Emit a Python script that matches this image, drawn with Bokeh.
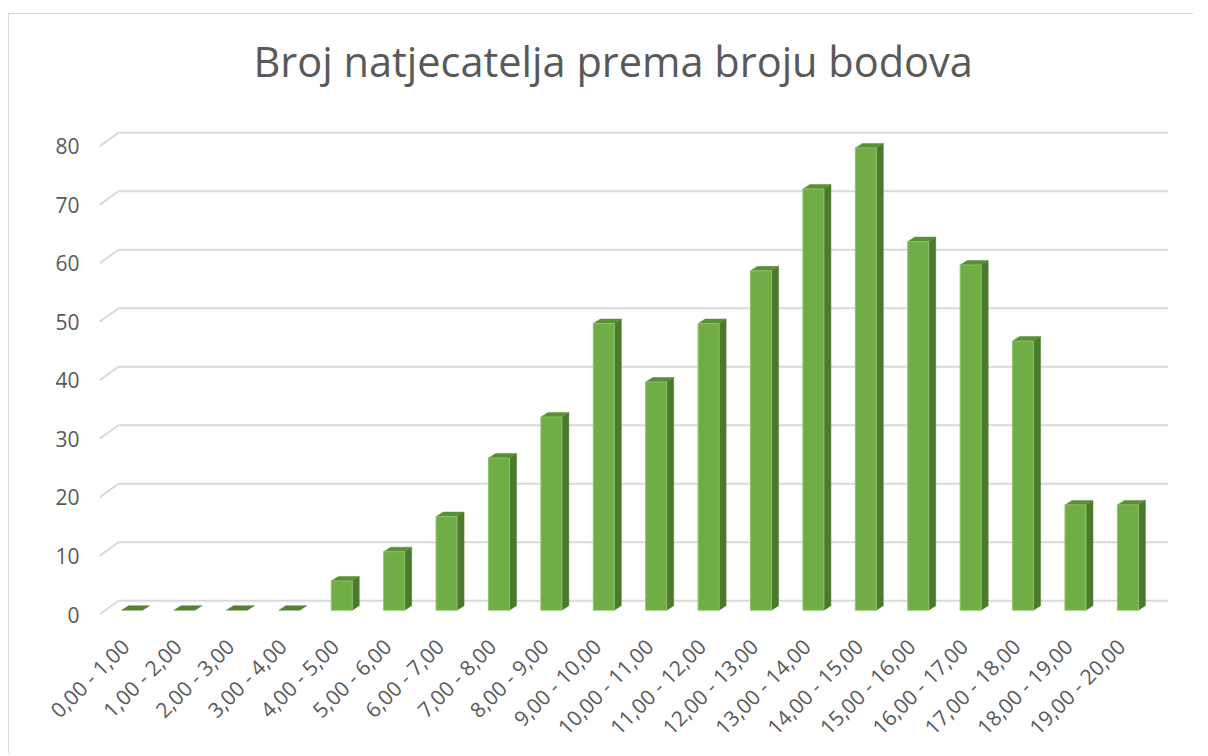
import math
from bokeh.plotting import figure
from bokeh.models import Range1d, FixedTicker, Title
from bokeh.embed import file_html
from bokeh.resources import INLINE

# ---- data ----
categories = ["0,00 - 1,00", "1,00 - 2,00", "2,00 - 3,00", "3,00 - 4,00", "4,00 - 5,00",
              "5,00 - 6,00", "6,00 - 7,00", "7,00 - 8,00", "8,00 - 9,00", "9,00 - 10,00",
              "10,00 - 11,00", "11,00 - 12,00", "12,00 - 13,00", "13,00 - 14,00", "14,00 - 15,00",
              "15,00 - 16,00", "16,00 - 17,00", "17,00 - 18,00", "18,00 - 19,00", "19,00 - 20,00"]
counts = [0, 0, 0, 0, 5, 10, 16, 26, 33, 49, 39, 49, 58, 72, 79, 63, 59, 46, 18, 18]
y_ticks = [0, 10, 20, 30, 40, 50, 60, 70, 80]
title_text = "Broj natjecatelja prema broju bodova"

# ---- styling / geometry (pseudo-3D column look) ----
FONT = "Open Sans"
TXT = "#595959"
FRONT = "#70AD47"
FRONT_EDGE = "#8DC26A"
SIDE = "#4A7A2C"
TOP = "#5A8F36"
FLAT = "#548235"
GRID = "#D9D9D9"

SHIFT = 0.13          # bars sit slightly right of the label anchors
X0, X1 = -0.622 + SHIFT, 19.775 + SHIFT
Y0, Y1 = -1.025, 87.85
half_w = 0.2          # half width of bar front face (category units)
base = 0.735          # bar base lift (bars sit mid-depth)
ddx, ddy = 0.134, 0.77  # bar depth offset
gdx_start = -0.26 + SHIFT  # back wall start (x)
gdy = 2.35            # back wall lift of gridlines

p = figure(width=1185, height=740, output_backend="svg", toolbar_location=None,
           x_range=Range1d(X0, X1), y_range=Range1d(Y0, Y1),
           min_border_left=90, min_border_right=26, min_border_top=86,
           min_border_bottom=134)
p.styles = {"margin-left": "8px", "margin-top": "13px",
            "border-left": "1px solid #D9D9D9", "border-top": "1px solid #D9D9D9"}
p.outline_line_color = None
p.background_fill_color = "white"
p.border_fill_color = "white"
p.xgrid.visible = False
p.ygrid.visible = False

# gridlines on back wall, with floor-to-wall diagonals
gx0, gy0, gx1, gy1 = [], [], [], []
for t in y_ticks:
    gx0 += [X0, gdx_start]
    gy0 += [t, t + gdy]
    gx1 += [gdx_start, X1]
    gy1 += [t + gdy, t + gdy]
p.segment(x0=gx0, y0=gy0, x1=gx1, y1=gy1, line_color=GRID, line_width=2)

# bars
front_l, front_r, front_b, front_t = [], [], [], []
side_xs, side_ys, top_xs, top_ys, flat_xs, flat_ys = [], [], [], [], [], []
for i, v in enumerate(counts):
    xc = i + SHIFT
    l, r = xc - half_w, xc + half_w
    b, t = base, base + v
    top = ([l, l + ddx, r + ddx, r], [t, t + ddy, t + ddy, t])
    if v > 0:
        front_l.append(l); front_r.append(r); front_b.append(b); front_t.append(t)
        side_xs.append([r, r + ddx, r + ddx, r])
        side_ys.append([b, b + ddy, t + ddy, t])
        top_xs.append(top[0]); top_ys.append(top[1])
    else:
        flat_xs.append(top[0]); flat_ys.append(top[1])

p.patches(xs=flat_xs, ys=flat_ys, fill_color=FLAT, line_color=FLAT, line_width=0.5)
p.patches(xs=side_xs, ys=side_ys, fill_color=SIDE, line_color=SIDE, line_width=0.5)
p.patches(xs=top_xs, ys=top_ys, fill_color=TOP, line_color=TOP, line_width=0.5)
p.quad(left=front_l, right=front_r, bottom=front_b, top=front_t,
       fill_color=FRONT, line_color=FRONT_EDGE, line_width=1)

# axes
p.yaxis.ticker = FixedTicker(ticks=y_ticks)
p.yaxis.axis_line_color = None
p.yaxis.major_tick_line_color = None
p.yaxis.minor_tick_line_color = None
p.yaxis.major_tick_out = 0
p.yaxis.major_label_standoff = 20
p.yaxis.major_label_text_font = FONT
p.yaxis.major_label_text_font_size = "21px"
p.yaxis.major_label_text_color = TXT

p.xaxis.ticker = FixedTicker(ticks=list(range(len(categories))))
p.xaxis.major_label_overrides = {i: c for i, c in enumerate(categories)}
p.xaxis.major_label_orientation = math.pi / 4
p.xaxis.axis_line_color = None
p.xaxis.major_tick_line_color = None
p.xaxis.minor_tick_line_color = None
p.xaxis.major_tick_out = 0
p.xaxis.major_label_standoff = 22
p.xaxis.major_label_text_font = FONT
p.xaxis.major_label_text_font_size = "21px"
p.xaxis.major_label_text_color = TXT

p.title = None
p.add_layout(Title(text=title_text, align="left", offset=154, standoff=24,
                   text_font=FONT, text_font_size="41.5px", text_font_style="normal",
                   text_color=TXT), "above")

open("out.html", "w").write(file_html(p, INLINE))
